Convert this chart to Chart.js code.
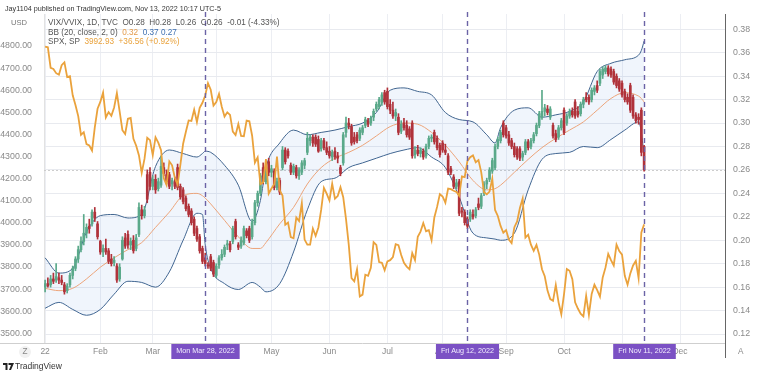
<!DOCTYPE html>
<html>
<head>
<meta charset="utf-8">
<script src="https://cdn.jsdelivr.net/npm/chart.js@4.4.1/dist/chart.umd.min.js"></script>
<style>
body { margin: 0; background: #fff; }
#wrap { position: relative; width: 758px; height: 374px; overflow: hidden; font-family: 'Liberation Sans', Arial, sans-serif; }
.t { position: absolute; white-space: nowrap; font-size: 8.2px; line-height: 9px; color: #555; }
</style>
</head>
<body>
<div id="wrap">
  <canvas id="chart" width="758" height="374"></canvas>
  <div class="t" style="left:5px;top:4px;color:#333;font-size:7.2px">Jay1104 published on TradingView.com, Nov 13, 2022 10:17 UTC-5</div>
  <div class="t" style="left:11px;top:18px;color:#777;font-size:7.6px">USD</div>
  <div class="t" style="left:48px;top:18px">VIX/VVIX, 1D, TVC&nbsp; O0.28&nbsp; H0.28&nbsp; L0.26&nbsp; C0.26&nbsp; -0.01 (-4.33%)</div>
  <div class="t" style="left:48px;top:28px">BB (20, close, 2, 0)&nbsp; <span style="color:#e39a4a">0.32</span>&nbsp; <span style="color:#3d6fb0">0.37</span>&nbsp;<span style="color:#3d6fb0">0.27</span></div>
  <div class="t" style="left:48px;top:37px">SPX, SP&nbsp; <span style="color:#e9a23c">3992.93&nbsp; +36.56 (+0.92%)</span></div>
  <div class="t" style="left:19px;top:346px;width:12px;height:12px;border-radius:6px;background:#f1f1f1;text-align:center;line-height:12px;color:#888">Z</div>
  <div class="t" style="left:738px;top:346px;line-height:12px;color:#888">A</div>
  <svg style="position:absolute;left:3px;top:363px" width="11" height="7" viewBox="0 0 11 7"><path d="M0 0h4.5v7h-2V2H0z M5.5 0h5.5L8 7H6l2-5H5.5z" fill="#222"/></svg>
  <div class="t" style="left:15px;top:362px;font-size:8.5px;color:#333">TradingView</div>
</div>
<script>
// x = bar index (trading day), 0 = Jan 3 2022
var monthIdx = [0, 20, 39, 62, 82, 103, 124, 144, 167, 188, 209, 230];
var monthLabels = ['22', 'Feb', 'Mar', 'Apr', 'May', 'Jun', 'Jul', 'Aug', 'Sep', 'Oct', 'Nov', 'Dec'];
var leftTicks = [3500, 3600, 3700, 3800, 3900, 4000, 4100, 4200, 4300, 4400, 4500, 4600, 4700, 4800];
var rightTicks = [0.12, 0.14, 0.16, 0.18, 0.20, 0.22, 0.24, 0.26, 0.28, 0.30, 0.32, 0.34, 0.36, 0.38];

// marked dates
var eventIdx = [58, 153, 217];
var eventLabels = ['Mon Mar 28, 2022', 'Fri Aug 12, 2022', 'Fri Nov 11, 2022'];

// VIX/VVIX daily candles
var vvOpen = [0.160,0.163,0.162,0.167,0.166,0.168,0.166,0.162,0.157,0.162,0.170,0.176,0.184,0.192,0.199,0.206,0.212,0.214,0.224,0.214,
  0.199,0.190,0.193,0.191,0.184,0.181,0.178,0.167,0.184,0.202,0.205,0.196,0.200,0.193,0.205,0.226,0.221,0.256,0.258,
  0.246,0.252,0.244,0.247,0.262,0.256,0.256,0.248,0.250,0.262,0.246,0.243,0.236,0.229,0.225,0.218,0.210,0.203,0.193,0.185,0.179,0.186,0.181,
  0.170,0.179,0.185,0.188,0.196,0.197,0.199,0.216,0.196,0.195,0.198,0.208,0.210,0.203,0.215,0.232,0.240,0.262,0.250,0.267,
  0.258,0.259,0.245,0.251,0.262,0.277,0.276,0.264,0.258,0.262,0.255,0.258,0.264,0.275,0.285,0.288,0.288,0.286,0.278,0.285,0.279,
  0.276,0.271,0.276,0.272,0.262,0.266,0.292,0.300,0.297,0.288,0.290,0.287,0.292,0.298,0.302,0.300,0.305,0.312,0.314,0.318,0.326,
  0.327,0.316,0.311,0.306,0.305,0.293,0.300,0.298,0.295,0.300,0.273,0.277,0.274,0.276,0.272,0.280,0.287,0.292,0.287,0.281,
  0.283,0.277,0.272,0.261,0.254,0.246,0.250,0.225,0.224,0.218,0.218,0.222,0.221,0.231,0.229,0.240,0.248,0.252,0.259,0.262,0.280,0.285,0.300,
  0.296,0.290,0.285,0.280,0.278,0.278,0.271,0.275,0.284,0.280,0.285,0.291,0.298,0.305,0.310,0.312,0.305,0.298,0.291,0.288,0.296,
  0.311,0.300,0.306,0.310,0.318,0.310,0.308,0.316,0.322,0.322,0.320,0.327,0.332,0.334,0.341,0.344,0.347,0.346,0.344,0.340,0.336,
  0.334,0.327,0.322,0.332,0.322,0.307,0.305,0.311,0.280];
var vvHigh = [0.166,0.168,0.170,0.172,0.180,0.172,0.170,0.164,0.163,0.172,0.178,0.186,0.195,0.203,0.222,0.214,0.218,0.226,0.228,0.216,
  0.200,0.196,0.201,0.193,0.188,0.186,0.180,0.180,0.203,0.206,0.208,0.202,0.204,0.205,0.232,0.230,0.229,0.260,0.262,
  0.255,0.256,0.253,0.272,0.266,0.260,0.258,0.253,0.254,0.265,0.248,0.245,0.238,0.231,0.227,0.220,0.212,0.205,0.195,0.189,0.181,0.188,0.183,
  0.180,0.187,0.192,0.196,0.200,0.199,0.212,0.218,0.198,0.203,0.212,0.210,0.212,0.218,0.234,0.242,0.257,0.266,0.265,0.270,
  0.264,0.261,0.253,0.253,0.280,0.279,0.278,0.266,0.265,0.264,0.262,0.268,0.270,0.292,0.290,0.290,0.290,0.289,0.287,0.287,0.284,
  0.280,0.277,0.279,0.275,0.264,0.292,0.305,0.304,0.299,0.292,0.292,0.296,0.298,0.305,0.304,0.306,0.312,0.318,0.322,0.326,0.328,
  0.330,0.320,0.318,0.312,0.308,0.302,0.304,0.302,0.297,0.302,0.280,0.281,0.279,0.278,0.282,0.289,0.290,0.294,0.289,0.283,
  0.285,0.282,0.274,0.263,0.256,0.252,0.252,0.228,0.226,0.220,0.226,0.226,0.228,0.236,0.240,0.250,0.253,0.262,0.270,0.282,0.288,0.294,0.302,
  0.298,0.293,0.287,0.283,0.280,0.280,0.276,0.286,0.286,0.287,0.292,0.300,0.310,0.328,0.316,0.315,0.314,0.300,0.294,0.298,0.304,
  0.313,0.308,0.312,0.313,0.320,0.314,0.318,0.322,0.326,0.324,0.330,0.332,0.336,0.346,0.348,0.349,0.349,0.348,0.346,0.342,0.338,
  0.336,0.329,0.325,0.334,0.324,0.309,0.308,0.313,0.281];
var vvLow = [0.156,0.160,0.160,0.163,0.164,0.163,0.162,0.154,0.155,0.160,0.167,0.174,0.181,0.190,0.196,0.202,0.206,0.212,0.216,0.201,
  0.188,0.186,0.188,0.180,0.178,0.178,0.164,0.165,0.183,0.193,0.193,0.192,0.189,0.191,0.203,0.218,0.219,0.232,0.243,
  0.243,0.240,0.242,0.245,0.255,0.248,0.244,0.243,0.244,0.243,0.235,0.231,0.225,0.220,0.213,0.204,0.199,0.189,0.180,0.178,0.176,0.174,0.169,
  0.168,0.176,0.183,0.186,0.192,0.190,0.197,0.201,0.192,0.193,0.196,0.202,0.198,0.201,0.213,0.229,0.238,0.248,0.248,0.255,
  0.254,0.243,0.243,0.239,0.260,0.265,0.270,0.256,0.256,0.253,0.252,0.256,0.261,0.273,0.281,0.280,0.280,0.275,0.276,0.277,0.273,
  0.270,0.268,0.269,0.266,0.255,0.264,0.288,0.295,0.281,0.282,0.283,0.285,0.290,0.296,0.297,0.298,0.302,0.310,0.312,0.315,0.316,
  0.312,0.308,0.304,0.302,0.290,0.291,0.294,0.288,0.286,0.270,0.270,0.272,0.271,0.269,0.270,0.278,0.284,0.282,0.277,0.271,
  0.275,0.273,0.256,0.256,0.244,0.244,0.221,0.220,0.213,0.210,0.216,0.218,0.219,0.226,0.227,0.238,0.244,0.250,0.257,0.260,0.278,0.283,0.288,
  0.287,0.281,0.278,0.271,0.269,0.268,0.268,0.273,0.277,0.278,0.283,0.289,0.296,0.303,0.306,0.307,0.303,0.287,0.284,0.286,0.294,
  0.290,0.298,0.304,0.305,0.304,0.305,0.306,0.313,0.318,0.316,0.318,0.324,0.326,0.332,0.338,0.342,0.340,0.339,0.333,0.330,0.327,
  0.322,0.318,0.316,0.309,0.304,0.300,0.299,0.272,0.259];
var vvClose = [0.163,0.161,0.167,0.165,0.169,0.166,0.164,0.156,0.161,0.170,0.176,0.184,0.192,0.199,0.206,0.211,0.210,0.224,0.219,0.203,
  0.190,0.193,0.190,0.182,0.180,0.183,0.166,0.177,0.200,0.195,0.196,0.199,0.191,0.202,0.228,0.221,0.226,0.235,0.246,
  0.252,0.243,0.250,0.263,0.257,0.250,0.246,0.251,0.246,0.245,0.237,0.233,0.227,0.222,0.215,0.206,0.201,0.191,0.182,0.180,0.178,0.176,0.171,
  0.178,0.185,0.188,0.194,0.197,0.192,0.210,0.203,0.194,0.200,0.210,0.204,0.200,0.215,0.232,0.240,0.255,0.250,0.262,0.258,
  0.261,0.245,0.250,0.241,0.277,0.267,0.272,0.258,0.263,0.255,0.260,0.266,0.268,0.287,0.288,0.283,0.282,0.276,0.285,0.279,0.275,
  0.272,0.275,0.271,0.270,0.257,0.290,0.300,0.298,0.283,0.284,0.285,0.294,0.296,0.303,0.299,0.304,0.310,0.316,0.320,0.324,0.318,
  0.314,0.311,0.306,0.309,0.292,0.299,0.296,0.290,0.288,0.272,0.277,0.274,0.277,0.271,0.280,0.287,0.288,0.284,0.279,0.273,
  0.277,0.275,0.258,0.258,0.246,0.249,0.223,0.224,0.215,0.212,0.224,0.220,0.226,0.228,0.238,0.248,0.251,0.260,0.268,0.280,0.286,0.292,0.290,
  0.289,0.283,0.280,0.273,0.271,0.270,0.274,0.284,0.279,0.285,0.290,0.298,0.308,0.310,0.313,0.309,0.312,0.289,0.286,0.296,0.302,
  0.292,0.306,0.310,0.307,0.306,0.307,0.316,0.320,0.320,0.318,0.328,0.330,0.328,0.344,0.346,0.347,0.342,0.341,0.335,0.332,0.329,
  0.324,0.320,0.318,0.311,0.306,0.302,0.303,0.275,0.260];

// Bollinger Bands (20, close, 2), read at sample bars
var bbIdx   = [0, 5, 10, 15, 20, 25, 30, 35, 40, 45, 50, 55, 57, 58, 60, 65, 70, 75, 78, 80, 85, 90, 95, 100, 105, 110, 115, 120, 125,
  130, 135, 140, 145, 150, 155, 160, 163, 165, 170, 175, 180, 185, 190, 195, 200, 205, 210, 215, 216, 217];
var bbUpper = [0.185,0.172,0.176,0.207,0.221,0.222,0.219,0.222,0.263,0.277,0.274,0.271,0.274,0.276,0.275,0.264,0.247,0.216,0.234,0.262,
  0.283,0.294,0.290,0.292,0.294,0.297,0.300,0.309,0.328,0.330,0.327,0.324,0.309,0.303,0.301,0.290,0.283,0.296,0.311,0.313,
  0.305,0.307,0.310,0.318,0.344,0.351,0.354,0.358,0.362,0.370];
var bbBasis = [0.159,0.157,0.159,0.167,0.177,0.185,0.192,0.198,0.211,0.224,0.238,0.240,0.238,0.236,0.231,0.217,0.203,0.193,0.193,0.198,
  0.214,0.228,0.248,0.262,0.270,0.275,0.281,0.289,0.297,0.300,0.299,0.292,0.281,0.267,0.251,0.243,0.244,0.247,0.258,0.269,
  0.279,0.287,0.294,0.301,0.311,0.321,0.326,0.323,0.321,0.318];
var bbLower = [0.142,0.147,0.141,0.136,0.141,0.154,0.165,0.164,0.160,0.173,0.200,0.223,0.222,0.196,0.176,0.163,0.158,0.164,0.160,0.156,
  0.163,0.190,0.226,0.250,0.253,0.262,0.266,0.270,0.274,0.277,0.279,0.271,0.262,0.237,0.206,0.202,0.201,0.200,0.206,0.243,
  0.269,0.274,0.275,0.280,0.279,0.286,0.294,0.301,0.292,0.272];

// S&P 500 daily close (left scale)
var spxClose = [4797,4794,4701,4696,4677,4670,4713,4726,4659,4663,4577,4533,4483,4398,4410,4356,4350,4327,4432,4516,
  4547,4589,4477,4501,4484,4522,4587,4504,4419,4402,4471,4475,4380,4349,4305,4226,4289,4385,4374,
  4306,4387,4363,4329,4201,4171,4278,4260,4204,4173,4262,4358,4412,4463,4461,4512,4456,4520,4543,4576,4632,4602,4530,
  4546,4583,4525,4481,4500,4488,4413,4397,4447,4393,4392,4462,4459,4394,4272,4296,4175,4184,4288,4132,
  4155,4175,4300,4147,4123,3991,4001,3935,3930,4024,4008,4089,3924,3901,3901,3974,3941,3979,4058,4158,4132,
  4101,4177,4109,4121,4161,4116,4018,3901,3750,3735,3790,3667,3675,3765,3760,3796,3912,3900,3822,3819,3785,
  3825,3831,3845,3903,3899,3854,3819,3802,3790,3863,3831,3937,3960,3999,3962,3967,3921,4024,4072,4130,
  4119,4091,4155,4152,4145,4140,4122,4210,4207,4280,4297,4305,4274,4284,4228,4138,4129,4141,4199,4058,4031,3986,3955,
  3967,3924,3908,3980,4006,4067,4110,3933,3946,3901,3873,3900,3856,3790,3758,3693,3655,3647,3719,3640,3586,
  3678,3791,3783,3745,3640,3612,3589,3577,3670,3583,3678,3720,3695,3666,3753,3797,3859,3831,3807,3901,3872,
  3856,3760,3720,3771,3807,3828,3749,3956,3993];

var upColor = '#5aa98a';
var downColor = '#b0323a';

function candleColor(ctx) {
  var i = ctx.dataIndex;
  return vvClose[i] >= vvOpen[i] ? upColor : downColor;
}

var overlay = {
  id: 'overlay',
  beforeDatasetsDraw: function (chart) {
    var c = chart.ctx, a = chart.chartArea, yR = chart.scales.yR;
    var y = Math.round(yR.getPixelForValue(vvClose[vvClose.length - 1])) + 0.5;
    c.save();
    c.strokeStyle = '#cdcdcd';
    c.lineWidth = 1;
    c.setLineDash([2, 2]);
    c.beginPath(); c.moveTo(a.left, y); c.lineTo(a.right, y); c.stroke();
    c.restore();
  },
  afterDraw: function (chart) {
    var c = chart.ctx, a = chart.chartArea, x = chart.scales.x;
    c.save();
    // axis frame lines
    c.strokeStyle = '#cfcfcf';
    c.lineWidth = 1;
    c.beginPath(); c.moveTo(0, a.bottom + 0.5); c.lineTo(a.right, a.bottom + 0.5); c.stroke();
    c.strokeStyle = '#666';
    c.beginPath(); c.moveTo(a.right + 0.5, a.top); c.lineTo(a.right + 0.5, a.bottom + 15); c.stroke();
    // marked dates
    for (var k = 0; k < eventIdx.length; k++) {
      var px = Math.round(x.getPixelForValue(eventIdx[k])) + 0.5;
      c.strokeStyle = '#6b63a6';
      c.lineWidth = 1.4;
      c.setLineDash([5, 4]);
      c.beginPath(); c.moveTo(px, 12); c.lineTo(px, a.bottom); c.stroke();
      c.setLineDash([]);
      c.font = '7.2px "Liberation Sans", Arial, sans-serif';
      var w = c.measureText(eventLabels[k]).width + 10;
      c.fillStyle = '#7b51c4';
      c.fillRect(px - w / 2, a.bottom + 1, w, 15);
      c.fillStyle = '#f3eeff';
      c.textAlign = 'center';
      c.textBaseline = 'middle';
      c.fillText(eventLabels[k], px, a.bottom + 8.5);
    }
    c.restore();
  }
};

Chart.defaults.font.family = "'Liberation Sans', Arial, sans-serif";

new Chart(document.getElementById('chart'), {
  type: 'bar',
  data: {
    datasets: [
      {
        type: 'line', label: 'BB upper', yAxisID: 'yR',
        data: bbIdx.map(function (x, k) { return { x: x, y: bbUpper[k] }; }),
        borderColor: '#41658f', borderWidth: 1, pointRadius: 0,
        cubicInterpolationMode: 'monotone',
        fill: '+1', backgroundColor: 'rgba(60,130,215,0.08)', order: 6
      },
      {
        type: 'line', label: 'BB lower', yAxisID: 'yR',
        data: bbIdx.map(function (x, k) { return { x: x, y: bbLower[k] }; }),
        borderColor: '#41658f', borderWidth: 1, pointRadius: 0,
        cubicInterpolationMode: 'monotone', fill: false, order: 6
      },
      {
        type: 'line', label: 'BB basis', yAxisID: 'yR',
        data: bbIdx.map(function (x, k) { return { x: x, y: bbBasis[k] }; }),
        borderColor: '#eca47a', borderWidth: 1, pointRadius: 0,
        cubicInterpolationMode: 'monotone', fill: false, order: 5
      },
      {
        label: 'wick', yAxisID: 'yR', grouped: false, barThickness: 1,
        data: vvLow.map(function (l, i) { return { x: i, y: [l, vvHigh[i]] }; }),
        backgroundColor: candleColor, order: 4
      },
      {
        label: 'body', yAxisID: 'yR', grouped: false, barThickness: 2,
        data: vvOpen.map(function (o, i) { return { x: i, y: [o, vvClose[i]] }; }),
        backgroundColor: candleColor, order: 3
      },
      {
        type: 'line', label: 'SPX', yAxisID: 'yL',
        data: spxClose.map(function (v, i) { return { x: i, y: v }; }),
        borderColor: '#eaa23c', borderWidth: 1.8, pointRadius: 0, tension: 0, fill: false, order: 1
      }
    ]
  },
  options: {
    responsive: false,
    animation: false,
    layout: { padding: { top: 14, left: 0, right: 0, bottom: 0 } },
    plugins: { legend: { display: false }, tooltip: { enabled: false } },
    scales: {
      x: {
        type: 'linear', min: -0.4, max: 246.3, offset: false,
        grid: { color: '#eceef3', offset: false, drawTicks: false },
        border: { display: false },
        ticks: {
          autoSkip: false, maxRotation: 0, color: '#8a8a8a', font: { size: 8.5 }, padding: 4,
          callback: function (v) { var k = monthIdx.indexOf(v); return k < 0 ? '' : monthLabels[k]; }
        },
        afterBuildTicks: function (s) { s.ticks = monthIdx.map(function (v) { return { value: v }; }); },
        afterFit: function (s) { s.height = 31; }
      },
      yL: {
        position: 'left', min: 3456.1, max: 4944.8,
        grid: { display: false },
        border: { display: true, color: '#e2e2e2' },
        ticks: { color: '#8a8a8a', font: { size: 8.8 }, padding: 4, callback: function (v) { return v.toFixed(2); } },
        afterBuildTicks: function (s) { s.ticks = leftTicks.map(function (v) { return { value: v }; }); },
        afterFit: function (s) { s.width = 44; }
      },
      yR: {
        position: 'right', min: 0.11234, max: 0.39305,
        grid: { color: '#e8eaef', drawTicks: false },
        border: { display: false },
        ticks: { color: '#8a8a8a', font: { size: 8.8 }, padding: 8, callback: function (v) { return v.toFixed(2); } },
        afterBuildTicks: function (s) { s.ticks = rightTicks.map(function (v) { return { value: v }; }); },
        afterFit: function (s) { s.width = 33; }
      }
    }
  },
  plugins: [overlay]
});
</script>
</body>
</html>
